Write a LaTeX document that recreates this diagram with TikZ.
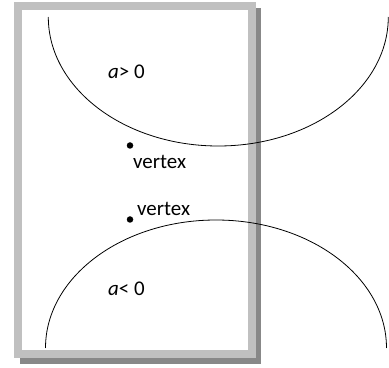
\documentclass[tikz,border=0pt]{standalone}
\usepackage{fontspec}
\setmainfont{Carlito}
\definecolor{marco}{HTML}{C0C0C0}
\definecolor{sombra}{HTML}{888888}
\newcommand{\rama}[5]{%
  \draw[line width=0.8bp] ({#1-#3},{#2}) arc[start angle=180,end angle=#5,x radius=#3,y radius=#4];}

\begin{document}
\begin{tikzpicture}[x=1bp,y=1bp,
  punto/.style={circle,fill=black,inner sep=0pt,minimum size=6.5bp},
  texto/.style={anchor=base west,inner sep=0pt,font=\fontsize{21}{25}\selectfont}]
  \useasboundingbox (0,0) rectangle (389,368);
  % marco con sombra
  \fill[sombra] (20,4) rectangle (261,360);
  \fill[marco] (14,10) rectangle (256,366);
  \fill[white] (22,18) rectangle (248,358);
  % ramas
  \rama{218.3}{351}{170}{129}{360}
  \rama{216}{20}{170.5}{128}{0}
  % vertices
  \foreach \n/\x/\y in {va/130/222.5,vb/130/148.5}
    \node[punto] (\n) at (\x,\y) {};
  % etiquetas
  \node[texto] (ea) at (133,200) {vertex};
  \node[texto] (eb) at (137,153) {vertex};
  \node[texto] (sa) at (108,290) {\textit{a}> 0};
  \node[texto] (sb) at (108,73) {\textit{a}< 0};
\end{tikzpicture}
\end{document}
